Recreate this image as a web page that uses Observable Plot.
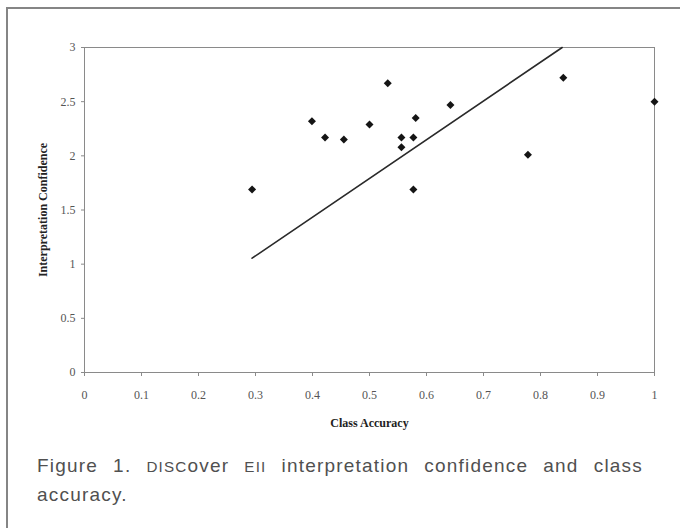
<!DOCTYPE html>
<html>
<head>
<meta charset="utf-8">
<script src="https://cdn.jsdelivr.net/npm/d3@7"></script>
<script src="https://cdn.jsdelivr.net/npm/@observablehq/plot@0.6"></script>
<style>
  html, body { margin: 0; padding: 0; background: #fff; width: 680px; height: 528px; overflow: hidden; }
  #box { position: absolute; left: 6px; top: 7px; width: 720px; height: 560px; border-left: 2px solid #858585; border-top: 2px solid #858585; }
  #chart { position: absolute; left: 0; top: 0; }
  #chart svg [aria-label="x-axis label"], #chart svg [aria-label="y-axis label"] { font-weight: bold; fill: #222; font-size: 12px; }
  #caption { position: absolute; left: 37px; top: 452px; width: 606px; font-family: "Liberation Sans", Arial, sans-serif; font-size: 19px; letter-spacing: 1.2px; line-height: 28px; color: #505050; }
  #caption .l1 { text-align: justify; text-align-last: justify; white-space: nowrap; }
  #caption .sc { font-size: 0.8em; }
</style>
</head>
<body>
<div id="box"></div>
<div id="chart"></div>
<div id="caption">
  <div class="l1">Figure 1. <span class="sc">DISC</span>over <span class="sc">EII</span> interpretation confidence and class</div>
  <div>accuracy.</div>
</div>
<script>
// Data
const classAccuracy = [0.294, 0.399, 0.422, 0.455, 0.500, 0.532, 0.556, 0.556, 0.577, 0.581, 0.577, 0.642, 0.778, 0.840, 1.000];
const confidence    = [1.69, 2.32, 2.17, 2.15, 2.29, 2.67, 2.17, 2.08, 2.17, 2.35, 1.69, 2.47, 2.01, 2.72, 2.50];
const trendX = [0.294, 0.838];
const trendY = [1.055, 3.0];
const xTicks = [0, 0.1, 0.2, 0.3, 0.4, 0.5, 0.6, 0.7, 0.8, 0.9, 1];
const yTicks = [0, 0.5, 1, 1.5, 2, 2.5, 3];

const points = classAccuracy.map((x, i) => ({x, y: confidence[i]}));
const trend = trendX.map((x, i) => ({x, y: trendY[i]}));

const chart = Plot.plot({
  width: 680,
  height: 440,
  marginLeft: 84,
  marginRight: 26,
  marginTop: 47,
  marginBottom: 68,
  style: {fontFamily: "'Liberation Serif', 'Times New Roman', serif", fontSize: "12px", color: "#555", background: "transparent"},
  x: {domain: [0, 1]},
  y: {domain: [0, 3]},
  marks: [
    Plot.frame({stroke: "#8a8a8a"}),
    Plot.axisX({ticks: xTicks, tickSize: 4, tickPadding: 14, tickFormat: d => String(d), label: "Class Accuracy", labelAnchor: "center", labelArrow: "none", labelOffset: 54, stroke: "#8a8a8a"}),
    Plot.axisY({ticks: yTicks, tickSize: 3, tickPadding: 6, tickFormat: d => String(d), label: "Interpretation Confidence", labelAnchor: "center", labelArrow: "none", labelOffset: 46, stroke: "#8a8a8a"}),
    Plot.line(trend, {x: "x", y: "y", stroke: "#2a2a2a", strokeWidth: 1.6}),
    Plot.dot(points, {x: "x", y: "y", symbol: "diamond2", r: 3.6, fill: "#151515", stroke: "none"})
  ]
});
document.getElementById("chart").appendChild(chart);
</script>
</body>
</html>
